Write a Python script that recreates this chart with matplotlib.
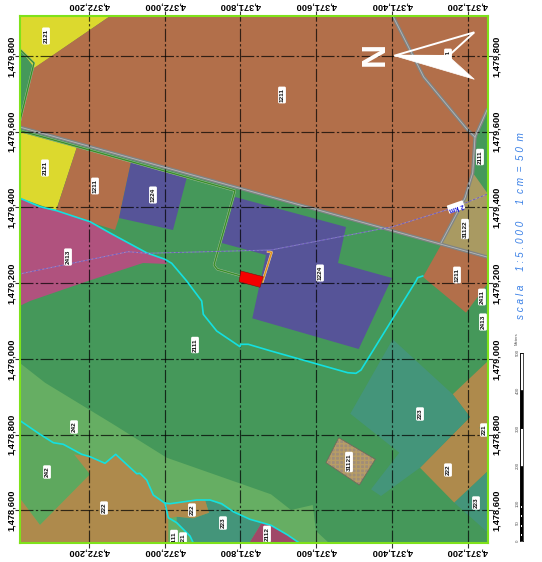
import matplotlib
matplotlib.use("Agg")
import matplotlib.pyplot as plt
from matplotlib.patches import Polygon
import numpy as np

plt.rcParams['font.family'] = ['Liberation Sans', 'DejaVu Sans']

W, H = 542, 562
FRAME = (19.5, 488.0, 15.5, 543.0)  # left, right, top, bottom
M_PER_UNIT = 200 / 75.7

def east(u):
    return 4372200 - (np.asarray(u, float) - 89.0) * M_PER_UNIT

def north(v):
    return 1479800 - (np.asarray(v, float) - 56.0) * M_PER_UNIT

# Digitised land-cover parcels (sheet readings, converted to map metres by east/north)
code_2121_a = [(19.5, 15.5), (111, 15.5), (34.5, 68), (19.5, 48)]
code_1211_a = [(111, 15.5), (488, 15.5), (488, 110), (475, 137), (473, 173), (465, 198), (441, 243), (19.5, 127), (19.5, 123), (34, 68)]
code_2121_b = [(19.5, 132), (76.7, 147.7), (56, 210.7), (19.5, 198)]
code_1211_b = [(76.7, 147.7), (131, 162), (119, 218), (115, 230), (93, 223), (56, 211)]
code_1224_a = [(131, 162), (186.7, 178), (173, 230), (119, 218)]
code_2413 = [(19.5, 198), (40, 206.7), (56.7, 210.7), (90, 221.7), (110, 233), (147, 253), (165, 259.3), (167, 264), (143, 263), (88, 281), (30, 301), (19.5, 306)]
code_1224_b = [(235, 197), (346, 227), (338, 263), (392, 278), (358.7, 349), (252.3, 318.3), (266, 255), (221.7, 243)]
code_31122 = [(473, 173), (488, 194), (488, 257), (441, 243), (465, 198)]
code_1211_c = [(441, 245), (488, 257), (488, 283), (466, 312.7), (423, 277)]
code_223_a = [(392.7, 339.3), (452.7, 394.3), (470, 417), (420, 467.7), (381, 496), (371, 489.3), (399.3, 452.7), (350.3, 413.7)]
code_222_a = [(488, 361), (452.7, 394.3), (470, 417), (420, 467.7), (454.3, 502.7), (488, 471)]
code_223_b = [(488, 471), (454.3, 502.7), (488, 532.7)]
code_221_a = [(479.3, 427.7), (488, 424), (488, 437.7)]
code_31121 = [(338.7, 437.7), (375.3, 459.3), (359.3, 485), (326, 462.7)]
code_242 = [(19.5, 362.7), (45, 382.7), (113.3, 424.3), (166.7, 457.7), (271, 494.3), (291, 510), (312.7, 505), (316, 531), (329, 543), (19.5, 543)]
code_242_low = [(19.5, 420.3), (40, 434.3), (53.3, 442.7), (63.3, 444.3), (81.7, 454.3), (90, 457), (90, 474.3), (40, 525), (19.5, 497.7)]
code_222_b = [(19.5, 497.7), (40, 525), (90, 474.3), (74, 454.3), (90, 457), (105, 463.3), (115.7, 454.3), (136.7, 473.7), (146.7, 480), (153.3, 495), (165, 503.3), (168.3, 517.7), (168.3, 543), (19.5, 543)]
code_222_c = [(165.7, 503.7), (196.7, 500), (205, 500), (209, 512.7), (193.3, 518.3), (176.7, 516.7), (168.3, 518.3)]
code_223_c = [(176.7, 516.7), (193.3, 518.3), (209, 512.7), (205, 500), (210, 500), (230, 509.3), (250, 519.3), (261.7, 522.7), (249.3, 543), (193.3, 543), (190, 536), (176.7, 522.7)]
code_2112 = [(261.7, 522.7), (271, 525.3), (287.7, 535), (299.3, 543), (249.3, 543)]
site_parcel = [(241, 271), (263.3, 276.7), (260, 287.3), (239, 281.7)]

parcels = [
    (code_242, '#66AE63'), (code_242_low, '#5EA85E'), (code_2121_a, '#DCD92E'), (code_1211_a, '#B26F4A'),
    (code_2121_b, '#DCD92E'), (code_1211_b, '#B26F4A'), (code_1224_a, '#565498'),
    (code_2413, '#B0527E'), (code_1224_b, '#565498'), (code_31122, '#A99A62'),
    (code_1211_c, '#B26F4A'), (code_222_a, '#AE8A4C'), (code_223_a, '#44957A'),
    (code_223_b, '#44957A'), (code_221_a, '#44957A'), (code_31121, '#A08D78'),
    (code_222_b, '#AE8A4C'), (code_223_c, '#44957A'), (code_222_c, '#AE8A4C'),
    (code_2112, '#A04868'),
]

road_main = [(19.5, 127), (487, 257)]
road_north = [(392.7, 15.7), (423.7, 77), (467.7, 130), (475, 137)]
road_east = [(487, 110), (475, 137), (472.7, 173), (465, 198), (441, 243)]
fence_a = [(19.5, 49), (34, 63), (19.5, 123)]
fence_b = [(19.5, 130.5), (235, 190.7), (221, 240), (214, 265), (217.3, 269.3), (240, 275.7)]
fence_site = [(268, 251.7), (271.7, 252.3), (262.3, 282.3)]
river_a = [(19.5, 198), (40, 206.7), (56.7, 210.7), (90, 221.7), (110, 233), (147, 253), (165, 259.3), (171.7, 263.3), (186.7, 281), (201.7, 301), (203.3, 314.3), (216.7, 331), (240, 346.7), (240.7, 344.3), (248.3, 344.3), (271, 351), (347.7, 372.7), (356, 373.3), (361, 370), (416, 281), (417.7, 277.7), (422.7, 276)]
river_b = [(19.5, 420.3), (40, 434.3), (53.3, 442.7), (63.3, 444.3), (81.7, 454.3), (90, 456.7), (105, 463.3), (115.7, 454.3), (136.7, 473.7), (140, 473.3), (146.7, 480), (153.3, 495), (165, 503.3), (170, 503.7), (196.7, 500), (210, 500), (221.7, 503.7), (233.3, 511.7), (250, 519.3), (271, 525.3), (287.7, 535), (299.3, 543)]
river_c = [(165, 503), (168.3, 517.7), (176.7, 522.7), (190, 536), (193.3, 543)]
boundary_2km = [(19.5, 274), (128.3, 251.7), (146.7, 253.3), (271, 250), (392.7, 226.7), (452.7, 208), (487, 194.3)]

label_text = ['2121', '2121', '1211', '1224', '2413', '1211', '1224', '2111', '31122', '1211', '2411', '2413', '2111', '242', '242', '222', '222', '223', '2111', '221', '2112', '223', '221', '222', '223', '31121', '1211']
label_u = [46, 45, 95, 153, 68, 282, 320, 480, 465, 457, 482, 483, 195, 74, 47, 104, 192, 223, 174, 183, 267, 420, 484, 448, 476, 349, 448]
label_v = [36, 168, 186, 195, 257, 95, 273, 157, 229, 275, 297, 322, 345, 427, 472, 508, 510, 523, 538, 539, 534, 414, 430, 470, 503, 462, 57]

xticks_m = [4372200, 4372000, 4371800, 4371600, 4371400, 4371200]
yticks_m = [1479800, 1479600, 1479400, 1479200, 1479000, 1478800, 1478600]

scale_edges = [100, 200, 300, 400, 500]
scale_fill = ['black', 'white', 'black', 'white']
scale_check_m = [12.5, 37.5, 62.5, 87.5]
scale_ticks = [0, 50, 100, 200, 300, 400, 500]


def pts(seq):
    a = np.array(seq, float)
    return np.column_stack([east(a[:, 0]), north(a[:, 1])])


fig = plt.figure(figsize=(W / 100, H / 100), dpi=100, facecolor='white')
L, R, T, B = FRAME
ax = fig.add_axes([L / W, 1 - B / H, (R - L) / W, (B - T) / H])
ax.set_xlim(east(L), east(R))
ax.set_ylim(north(B), north(T))
ax.set_facecolor('#45985A')

for seq, col in parcels:
    ax.add_patch(Polygon(pts(seq), closed=True, fc=col, ec='none', zorder=1))
ax.add_patch(Polygon(pts(code_31121), closed=True, fc='none', ec='#C8A85A', hatch='++++', lw=0, zorder=1.1, alpha=0.6))
ax.add_patch(Polygon(pts(code_31121), closed=True, fc='none', ec='#6F6A5C', lw=0.6, zorder=1.2))

for seq in (road_main, road_north, road_east):
    p = pts(seq)
    ax.plot(p[:, 0], p[:, 1], color='#7F8484', lw=2.4, zorder=2, solid_joinstyle='round')
    ax.plot(p[:, 0], p[:, 1], color='#B8B8B8', lw=0.6, zorder=2.1)
for seq in (fence_a, fence_b):
    p = pts(seq)
    ax.plot(p[:, 0], p[:, 1], color='#A8C0A0', lw=1.6, zorder=2.2)
    ax.plot(p[:, 0], p[:, 1], color='#3A8F2A', lw=1.0, zorder=2.3)
p = pts(fence_site)
ax.plot(p[:, 0], p[:, 1], color='#E8E0C0', lw=1.7, zorder=2.2)
ax.plot(p[:, 0], p[:, 1], color='#E0901E', lw=1.1, zorder=2.3)

for seq in (river_a, river_b, river_c):
    p = pts(seq)
    ax.plot(p[:, 0], p[:, 1], color='#14E0E0', lw=1.2, zorder=3, solid_joinstyle='round')

p = pts(boundary_2km)
ax.plot(p[:, 0], p[:, 1], color='#B8B8E8', lw=0.7, alpha=0.5, zorder=3.1)
ax.plot(p[:, 0], p[:, 1], color='#6A55C0', lw=0.6, ls=(0, (3, 2)), zorder=3.2)

ax.add_patch(Polygon(pts(site_parcel), closed=True, fc='#F50000', ec='#7A1010', lw=0.4, zorder=3.5))

ax.set_xticks(xticks_m)
ax.set_yticks(yticks_m)
ax.set_xticklabels([f'{v:,}' for v in xticks_m], rotation=180, ha='center', va='center')
ax.set_yticklabels([f'{v:,}' for v in yticks_m], rotation=90, ha='center', va='center')
ax.tick_params(axis='both', which='major', length=3.5, width=0.8, color='#333333',
               top=True, right=True, labeltop=True, labelright=True, labelsize=6.7)
ax.tick_params(axis='y', pad=2.4)
ax.tick_params(axis='x', pad=3.2)
for lab in ax.get_xticklabels() + ax.get_yticklabels():
    lab.set_fontweight('bold')
ax.grid(True, color='black', alpha=0.72, lw=0.85, ls=(0, (11, 2, 2, 2)), zorder=4)
ax.set_axisbelow(False)
for s in ax.spines.values():
    s.set_color('#7FE21A')
    s.set_linewidth(1.5)
    s.set_zorder(8)

for t, u, v in zip(label_text, label_u, label_v):
    ax.text(east(u), north(v), t, rotation=90, ha='center', va='center', fontsize=4.6,
            fontweight='bold', color='#111111', zorder=5, clip_on=True,
            bbox=dict(boxstyle='round,pad=0.22', fc='white', ec='none'))

ax.text(east(456), north(207), '2 km', rotation=199, rotation_mode='anchor', ha='center', va='center',
        fontsize=4.8, fontweight='bold', color='#1A1AD8', zorder=5,
        bbox=dict(boxstyle='round,pad=0.12', fc='white', ec='none'))

# north arrow
arrow_fill = [(394.3, 55.7), (474.3, 79.3), (448.3, 56)]
arrow_line = [(394.3, 55.7), (474.3, 32.3), (448.3, 56)]
ax.add_patch(Polygon(pts(arrow_fill), closed=True, fc='white', ec='white', lw=0.5, zorder=6))
ax.add_patch(Polygon(pts(arrow_line), closed=True, fc='none', ec='white', lw=1.4, zorder=6))
ax.text(east(375.5), north(54), 'N', rotation=90, ha='center', va='center', fontsize=24,
        color='white', fontweight='bold', zorder=6)

fig.text(521 / W, 1 - 226 / H, 's c a l a     1 : 5 . 0 0 0      1  c m  =  5 0  m',
         rotation=90, ha='center', va='center', fontsize=7.2, style='italic', color='#3A80E6')

# scale bar
sb = fig.add_axes([520 / W, 1 - 541 / H, 3 / W, 188.3 / H])
sb.set_xlim(0, 1)
sb.set_ylim(0, 500)
sb.bar(0.5, 100, width=1, bottom=0, color='black', lw=0)
sb.bar([0.5] * len(scale_check_m), 6, width=0.45, bottom=scale_check_m, color='white', lw=0)
for lo, hi, col in zip(scale_edges[:-1], scale_edges[1:], scale_fill):
    sb.bar(0.5, hi - lo, width=1, bottom=lo, color=col, edgecolor='black', lw=0.5)
for s in sb.spines.values():
    s.set_linewidth(0.5)
sb.set_xticks([])
sb.set_yticks(scale_ticks)
sb.set_yticklabels([str(v) for v in scale_ticks], rotation=90, va='center', ha='center', fontsize=3.2, color='#555555')
sb.tick_params(axis='y', length=0, pad=1.6)
sb.text(-1.0, 520, 'Meters', rotation=90, ha='center', va='bottom', fontsize=3, color='#555555')

fig.savefig('out.png', dpi=100)
